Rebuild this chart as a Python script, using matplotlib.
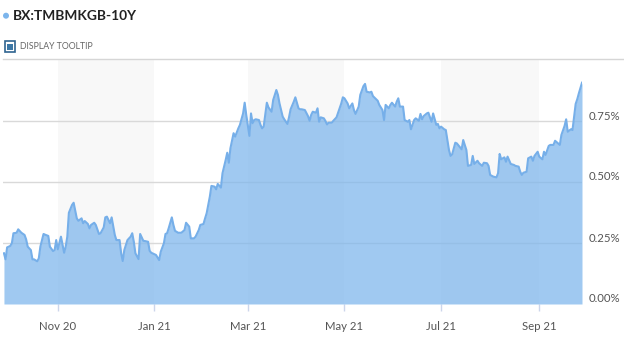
import matplotlib
matplotlib.use("Agg")
import matplotlib.pyplot as plt
import matplotlib.dates as mdates
import matplotlib.transforms as mtransforms
from matplotlib.patches import Rectangle, Ellipse
import numpy as np
import pandas as pd

title = "BX:TMBMKGB-10Y"
tooltip_label = "DISPLAY TOOLTIP"

dates = [
    "2020-09-28", "2020-09-29", "2020-09-30", "2020-10-02", "2020-10-03", "2020-10-04", "2020-10-06", "2020-10-07",
    "2020-10-09", "2020-10-11", "2020-10-12", "2020-10-13", "2020-10-15", "2020-10-16", "2020-10-17", "2020-10-19",
    "2020-10-20", "2020-10-21", "2020-10-23", "2020-10-24", "2020-10-26", "2020-10-27", "2020-10-29", "2020-10-30",
    "2020-10-31", "2020-11-01", "2020-11-03", "2020-11-05", "2020-11-06", "2020-11-07", "2020-11-08", "2020-11-10",
    "2020-11-11", "2020-11-13", "2020-11-14", "2020-11-16", "2020-11-17", "2020-11-18", "2020-11-20", "2020-11-21",
    "2020-11-22", "2020-11-24", "2020-11-25", "2020-11-27", "2020-11-28", "2020-11-30", "2020-12-01", "2020-12-02",
    "2020-12-04", "2020-12-05", "2020-12-07", "2020-12-08", "2020-12-10", "2020-12-11", "2020-12-12", "2020-12-13",
    "2020-12-15", "2020-12-17", "2020-12-18", "2020-12-19", "2020-12-20", "2020-12-22", "2020-12-23", "2020-12-25",
    "2020-12-26", "2020-12-28", "2020-12-29", "2020-12-30", "2021-01-01", "2021-01-02", "2021-01-04", "2021-01-05",
    "2021-01-07", "2021-01-08", "2021-01-09", "2021-01-10", "2021-01-12", "2021-01-13", "2021-01-14", "2021-01-16",
    "2021-01-18", "2021-01-20", "2021-01-21", "2021-01-23", "2021-01-24", "2021-01-26", "2021-01-27", "2021-01-29",
    "2021-01-30", "2021-02-01", "2021-02-02", "2021-02-03", "2021-02-05", "2021-02-06", "2021-02-08", "2021-02-09",
    "2021-02-10", "2021-02-12", "2021-02-13", "2021-02-15", "2021-02-16", "2021-02-17", "2021-02-18", "2021-02-20",
    "2021-02-21", "2021-02-23", "2021-02-24", "2021-02-26", "2021-02-27", "2021-02-28", "2021-03-02", "2021-03-03",
    "2021-03-04", "2021-03-05", "2021-03-06", "2021-03-08", "2021-03-09", "2021-03-10", "2021-03-11", "2021-03-13",
    "2021-03-14", "2021-03-16", "2021-03-17", "2021-03-19", "2021-03-20", "2021-03-21", "2021-03-23", "2021-03-24",
    "2021-03-26", "2021-03-27", "2021-03-28", "2021-03-30", "2021-03-31", "2021-04-02", "2021-04-03", "2021-04-04",
    "2021-04-06", "2021-04-08", "2021-04-09", "2021-04-10", "2021-04-11", "2021-04-13", "2021-04-14", "2021-04-15",
    "2021-04-16", "2021-04-18", "2021-04-19", "2021-04-20", "2021-04-21", "2021-04-23", "2021-04-24", "2021-04-26",
    "2021-04-27", "2021-04-29", "2021-04-30", "2021-05-01", "2021-05-03", "2021-05-04", "2021-05-06", "2021-05-07",
    "2021-05-08", "2021-05-10", "2021-05-11", "2021-05-13", "2021-05-14", "2021-05-15", "2021-05-17", "2021-05-18",
    "2021-05-19", "2021-05-21", "2021-05-22", "2021-05-23", "2021-05-25", "2021-05-26", "2021-05-27", "2021-05-29",
    "2021-05-30", "2021-05-31", "2021-06-02", "2021-06-03", "2021-06-04", "2021-06-05", "2021-06-07", "2021-06-08",
    "2021-06-10", "2021-06-11", "2021-06-12", "2021-06-14", "2021-06-15", "2021-06-17", "2021-06-18", "2021-06-19",
    "2021-06-20", "2021-06-22", "2021-06-23", "2021-06-25", "2021-06-26", "2021-06-28", "2021-06-29", "2021-06-30",
    "2021-07-01", "2021-07-03", "2021-07-04", "2021-07-05", "2021-07-06", "2021-07-07", "2021-07-08", "2021-07-10",
    "2021-07-11", "2021-07-13", "2021-07-14", "2021-07-15", "2021-07-17", "2021-07-18", "2021-07-20", "2021-07-21",
    "2021-07-22", "2021-07-24", "2021-07-25", "2021-07-27", "2021-07-28", "2021-07-30", "2021-07-31", "2021-08-01",
    "2021-08-03", "2021-08-05", "2021-08-06", "2021-08-07", "2021-08-08", "2021-08-10", "2021-08-11", "2021-08-12",
    "2021-08-14", "2021-08-16", "2021-08-17", "2021-08-19", "2021-08-20", "2021-08-21", "2021-08-22", "2021-08-24",
    "2021-08-25", "2021-08-27", "2021-08-28", "2021-08-29", "2021-08-31", "2021-09-01", "2021-09-03", "2021-09-04",
    "2021-09-05", "2021-09-07", "2021-09-08", "2021-09-10", "2021-09-11", "2021-09-13", "2021-09-14", "2021-09-15",
    "2021-09-17", "2021-09-18", "2021-09-19", "2021-09-21", "2021-09-22", "2021-09-24", "2021-09-25", "2021-09-26",
    "2021-09-28",
]

yields = [
    0.208, 0.183, 0.232, 0.238, 0.249, 0.290, 0.292, 0.306,
    0.292, 0.283, 0.265, 0.235, 0.221, 0.183, 0.183, 0.175,
    0.187, 0.235, 0.287, 0.284, 0.279, 0.235, 0.217, 0.221,
    0.262, 0.224, 0.276, 0.210, 0.235, 0.276, 0.374, 0.406,
    0.415, 0.351, 0.341, 0.351, 0.331, 0.340, 0.328, 0.310,
    0.324, 0.333, 0.324, 0.287, 0.290, 0.314, 0.355, 0.358,
    0.331, 0.355, 0.283, 0.262, 0.262, 0.208, 0.176, 0.221,
    0.262, 0.276, 0.290, 0.255, 0.208, 0.184, 0.287, 0.259,
    0.258, 0.255, 0.218, 0.210, 0.204, 0.201, 0.180, 0.214,
    0.249, 0.287, 0.290, 0.310, 0.355, 0.324, 0.300, 0.292,
    0.292, 0.303, 0.333, 0.317, 0.269, 0.269, 0.276, 0.303,
    0.324, 0.328, 0.351, 0.372, 0.440, 0.484, 0.481, 0.470,
    0.492, 0.477, 0.536, 0.590, 0.620, 0.579, 0.638, 0.700,
    0.686, 0.720, 0.734, 0.781, 0.825, 0.775, 0.689, 0.781,
    0.741, 0.754, 0.757, 0.754, 0.734, 0.720, 0.727, 0.825,
    0.806, 0.788, 0.836, 0.877, 0.857, 0.822, 0.768, 0.757,
    0.738, 0.765, 0.798, 0.829, 0.847, 0.802, 0.798, 0.798,
    0.795, 0.770, 0.751, 0.775, 0.788, 0.784, 0.802, 0.747,
    0.765, 0.761, 0.750, 0.736, 0.743, 0.743, 0.751, 0.765,
    0.784, 0.822, 0.847, 0.843, 0.822, 0.802, 0.822, 0.795,
    0.779, 0.809, 0.857, 0.893, 0.902, 0.870, 0.867, 0.870,
    0.852, 0.839, 0.833, 0.816, 0.795, 0.754, 0.816, 0.802,
    0.816, 0.825, 0.809, 0.829, 0.843, 0.809, 0.809, 0.754,
    0.747, 0.754, 0.716, 0.754, 0.761, 0.751, 0.779, 0.757,
    0.770, 0.781, 0.784, 0.747, 0.781, 0.734, 0.738, 0.720,
    0.727, 0.716, 0.713, 0.672, 0.631, 0.607, 0.613, 0.661,
    0.658, 0.642, 0.634, 0.672, 0.631, 0.566, 0.570, 0.607,
    0.574, 0.587, 0.577, 0.566, 0.579, 0.577, 0.566, 0.529,
    0.522, 0.519, 0.536, 0.615, 0.593, 0.601, 0.583, 0.604,
    0.574, 0.570, 0.566, 0.563, 0.542, 0.529, 0.538, 0.542,
    0.597, 0.604, 0.587, 0.607, 0.624, 0.604, 0.593, 0.624,
    0.611, 0.648, 0.652, 0.652, 0.669, 0.658, 0.652, 0.693,
    0.730, 0.757, 0.706, 0.716, 0.713, 0.820, 0.839, 0.863,
    0.907,
]

band_starts = ["2020-11-01", "2021-03-01", "2021-07-01"]
band_ends = ["2021-01-01", "2021-05-01", "2021-09-01"]
tick_dates = ["2020-11-01", "2021-01-01", "2021-03-01", "2021-05-01", "2021-07-01", "2021-09-01"]
tick_labels = ["Nov 20", "Jan 21", "Mar 21", "May 21", "Jul 21", "Sep 21"]
y_ticks = [0.0, 0.25, 0.5, 0.75]
y_tick_labels = ["0.00%", "0.25%", "0.50%", "0.75%"]

W, H = 624, 337
fig = plt.figure(figsize=(W / 100, H / 100), dpi=100)
fig.patch.set_facecolor("white")

ax = fig.add_axes([3 / W, (H - 304) / H, 579 / W, 244 / H])
x = pd.to_datetime(dates)
xn = mdates.date2num(x)

line_color = "#7cb5ec"
ax.set_facecolor("white")
for s, e in zip(band_starts, band_ends):
    ax.axvspan(mdates.datestr2num(s), mdates.datestr2num(e), color="#f8f8f8", lw=0, zorder=0)
for yv in y_ticks[1:]:
    ax.axhline(yv, color="#d9d9d9", lw=1.0, zorder=1)

ax.fill_between(xn, 0, yields, color=line_color, alpha=0.72, lw=0, zorder=2)
ax.plot(xn, yields, color="#76afe9", lw=1.5, zorder=3, solid_joinstyle="round")

nov1 = mdates.datestr2num("2020-11-01")
ax.set_xlim(nov1 - 34.6, nov1 + 331.0)
ax.set_ylim(0, 1.0)

for sp in ax.spines.values():
    sp.set_visible(False)

ax.set_xticks([mdates.datestr2num(d) for d in tick_dates])
ax.set_xticklabels(tick_labels)
ax.tick_params(axis="x", length=5, width=1, color="#ccd6eb", pad=7,
               labelsize=8.2, labelcolor="#555555")
ax.yaxis.tick_right()
ax.set_yticks(y_ticks)
ax.set_yticklabels(y_tick_labels)
ax.tick_params(axis="y", length=0, pad=5, labelsize=8.2, labelcolor="#555555")
offset = mtransforms.ScaledTranslation(0, 6 / 100, fig.dpi_scale_trans)
for lab in ax.get_yticklabels():
    lab.set_transform(lab.get_transform() + offset)
for lab in ax.get_xticklabels() + ax.get_yticklabels():
    lab.set_fontfamily("Lato")

# Header
fig.patches.append(Ellipse((6 / W, (H - 15.7) / H), 6 / W, 6 / H, transform=fig.transFigure,
                           facecolor=line_color, edgecolor="none"))
fig.text(13 / W, (H - 16) / H, title, fontsize=9.9, fontweight="bold", family="Lato",
         color="#222222", va="center", ha="left")

fig.patches.append(Rectangle((4.5 / W, (H - 52) / H), 10.5 / W, 10.5 / H, transform=fig.transFigure,
                             facecolor="white", edgecolor="#2f6490", lw=1.2))
fig.patches.append(Rectangle((7 / W, (H - 49.5) / H), 5.5 / W, 5.5 / H, transform=fig.transFigure,
                             facecolor="#3b77a6", edgecolor="none"))
fig.text(20.5 / W, (H - 46.5) / H, tooltip_label, fontsize=6.3, family="Lato",
         color="#666666", va="center", ha="left")
fig.lines.append(plt.Line2D([3 / W, 1.0], [(H - 58.7) / H] * 2, transform=fig.transFigure,
                            color="#d6d6d6", lw=1.0))

fig.savefig("out.png", dpi=100, facecolor="white")
